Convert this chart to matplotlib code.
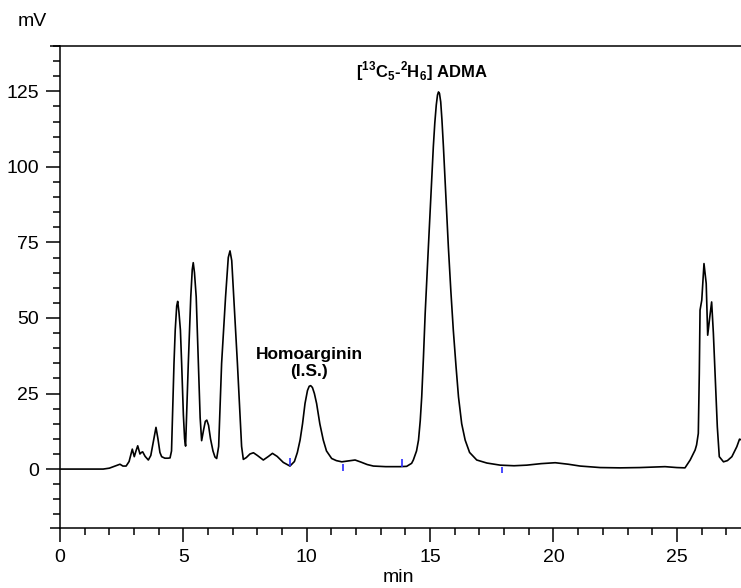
import matplotlib
matplotlib.use("Agg")
import matplotlib.pyplot as plt
from matplotlib.ticker import MultipleLocator

plt.rcParams['font.family'] = ['Liberation Sans', 'DejaVu Sans']
plt.rcParams['mathtext.fontset'] = 'custom'
plt.rcParams['mathtext.bf'] = 'Liberation Sans:bold'
plt.rcParams['mathtext.rm'] = 'Liberation Sans:bold'

# chromatogram trace (time in min, signal in mV)
time_min = [0.00, 1.75, 2.00, 2.20, 2.43, 2.55, 2.68, 2.80, 2.93, 3.01, 3.08, 3.15, 3.24, 3.30,
            3.35, 3.45, 3.58, 3.68, 3.78, 3.89, 3.97, 4.05, 4.12, 4.25, 4.38, 4.46, 4.52, 4.57,
            4.62, 4.67, 4.73, 4.77, 4.82, 4.88, 4.93, 5.00, 5.05, 5.09, 5.14, 5.20, 5.30, 5.36,
            5.40, 5.45, 5.52, 5.61, 5.68, 5.74, 5.82, 5.89, 5.95, 6.02, 6.10, 6.20, 6.28, 6.35,
            6.43, 6.55, 6.71, 6.82, 6.89, 6.96, 7.04, 7.19, 7.36, 7.43, 7.55, 7.70, 7.84, 8.00,
            8.24, 8.45, 8.61, 8.80, 9.05, 9.32, 9.50, 9.62, 9.73, 9.83, 9.93, 10.03, 10.10, 10.16,
            10.23, 10.31, 10.40, 10.53, 10.67, 10.80, 11.01, 11.20, 11.42, 11.70, 11.96, 12.20,
            12.45, 12.70, 13.20, 13.78, 14.05, 14.25, 14.32, 14.45, 14.53, 14.60, 14.66, 14.73,
            14.80, 14.86, 14.93, 15.03, 15.13, 15.19, 15.25, 15.30, 15.34, 15.38, 15.43, 15.48,
            15.54, 15.64, 15.74, 15.84, 15.94, 16.05, 16.15, 16.28, 16.42, 16.60, 16.89, 17.30,
            17.84, 18.40, 18.92, 19.50, 20.07, 20.60, 21.08, 21.89, 22.70, 23.50, 24.52, 25.00,
            25.33, 25.54, 25.74, 25.80, 25.87, 25.91, 25.94, 26.01, 26.10, 26.19, 26.25, 26.33,
            26.41, 26.48, 26.55, 26.64, 26.72, 26.89, 27.05, 27.23, 27.43, 27.50, 27.54, 27.60]
signal_mv = [0.0, 0.0, 0.3, 0.9, 1.6, 1.0, 1.0, 2.5, 6.6, 4.1, 6.0, 7.7, 5.0, 5.5,
             5.7, 4.2, 3.0, 4.5, 9.0, 13.8, 10.0, 5.5, 4.1, 3.6, 3.6, 3.7, 6.0, 20.0,
             35.0, 46.0, 54.0, 55.5, 52.0, 46.0, 35.0, 18.0, 10.0, 7.6, 20.0, 35.0, 57.0, 66.0,
             68.3, 65.0, 57.0, 35.0, 17.0, 9.4, 13.0, 15.8, 16.2, 14.5, 10.0, 6.0, 4.0, 3.5,
             7.5, 35.0, 57.0, 70.0, 72.2, 69.0, 57.0, 35.0, 7.5, 3.2, 3.8, 5.0, 5.4, 4.5,
             3.0, 4.2, 5.2, 4.2, 2.2, 1.0, 2.5, 5.5, 9.6, 15.0, 21.7, 26.0, 27.4, 27.6,
             27.0, 25.0, 21.7, 15.0, 9.6, 6.0, 3.5, 2.8, 2.4, 2.7, 3.0, 2.3,
             1.5, 1.0, 0.8, 0.8, 0.9, 1.9, 3.0, 6.0, 9.6, 16.0, 23.9, 37.0,
             51.5, 62.0, 73.5, 90.0, 106.6, 114.5, 120.5, 123.8, 124.8, 124.3, 121.5, 115.5,
             106.6, 90.0, 73.5, 59.0, 46.0, 34.0, 23.9, 15.0, 9.6, 5.5, 3.0, 2.0,
             1.3, 1.1, 1.3, 1.8, 2.1, 1.6, 1.0, 0.5, 0.4, 0.5, 0.8, 0.5,
             0.4, 3.0, 6.3, 8.0, 11.8, 31.6, 52.6, 55.9, 68.0, 61.4, 44.3, 50.0,
             55.3, 45.0, 31.6, 14.0, 4.1, 2.4, 2.8, 4.1, 7.4, 9.0, 9.9, 9.7]

# integration marks (blue)
mark_time = [9.32, 11.48, 13.85, 17.92]
mark_low = [1.0, -0.7, 0.6, -1.4]
mark_high = [3.5, 1.7, 3.3, 0.8]

y_major = [0, 25, 50, 75, 100, 125]
x_major = [0, 5, 10, 15, 20, 25]

W, H = 741, 588
fig = plt.figure(figsize=(W / 100, H / 100), dpi=100)
ax = fig.add_axes([60 / W, (H - 528) / H, (W - 60) / W, (528 - 46) / H])

ax.plot(time_min, signal_mv, color='black', lw=1.2)
ax.vlines(mark_time, mark_low, mark_high, color='#2a2aff', lw=1.2)

ax.set_xlim(0, 27.6)
ax.set_ylim(-19.5, 140)
ax.set_xticks(x_major)
ax.set_yticks(y_major)
ax.xaxis.set_minor_locator(MultipleLocator(1))
ax.yaxis.set_minor_locator(MultipleLocator(5))
ax.tick_params(which='major', direction='out', length=10, width=1.1, labelsize=14, pad=5)
ax.tick_params(which='minor', direction='out', length=5, width=1.1)
for s in ['left', 'bottom', 'top']:
    ax.spines[s].set_linewidth(1.1)
ax.spines['right'].set_visible(False)

# short extensions of top/bottom frame lines to the left
ext = 10 / (W - 60) * 27.6
for yv in (140, -19.5):
    ax.plot([-ext, 0], [yv, yv], color='black', lw=1.1, clip_on=False, solid_capstyle='butt')

fig.text(32 / W, 1 - 21 / H, 'mV', fontsize=14, ha='center', va='center')
fig.text(398 / W, 1 - 578 / H, 'min', fontsize=14, ha='center', va='center')

ax.text(10.1, 35, 'Homoarginin\n(I.S.)', fontsize=12.5, fontweight='bold',
        ha='center', va='center', linespacing=1.15)
ax.text(14.65, 131.5, r'[$^{\mathbf{13}}$C$_{\mathbf{5}}$-$^{\mathbf{2}}$H$_{\mathbf{6}}$] ADMA',
        fontsize=12, fontweight='bold', ha='center', va='center')

fig.savefig('out.png', dpi=100)
